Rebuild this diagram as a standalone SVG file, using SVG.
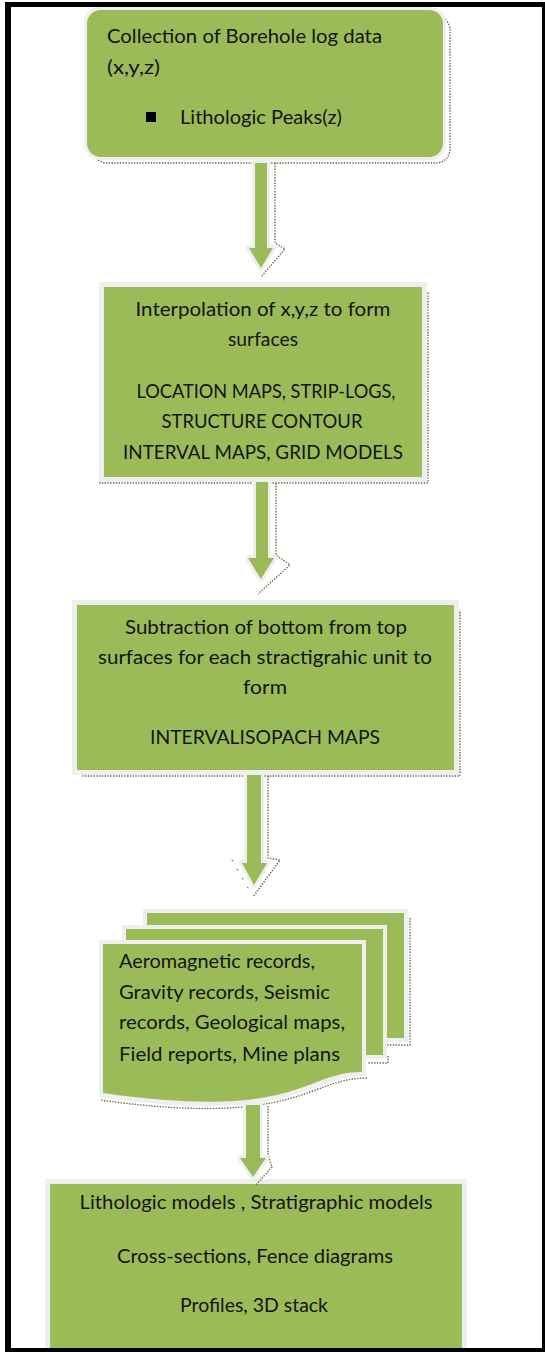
<svg xmlns="http://www.w3.org/2000/svg" width="545" height="1352" viewBox="0 0 545 1352">
  <style>
    .fill { fill: #9bbb59; }
    .halo { fill: #efefef; }
    .shadow { fill: none; stroke: #5f6f45; stroke-width: 1.4; stroke-dasharray: 1.4 1.4; }
    .ahalo { fill: #efefef; stroke: #efefef; stroke-width: 6; stroke-linejoin: round; }
    .t { font-family: Lato, "Liberation Sans", sans-serif; font-size: 18.5px; fill: #141414; }
    .c { text-anchor: middle; }
  </style>

  <rect x="0" y="0" width="545" height="1352" fill="#ffffff"/>

  <!-- step 1: borehole data -->
  <g id="node-collection">
    <rect class="shadow" x="93" y="16" width="357" height="147" rx="14"/>
    <rect class="halo" x="84" y="7" width="362" height="153" rx="16"/>
    <rect class="fill" x="87" y="10" width="356" height="147" rx="14"/>
    <text class="t" x="107" y="43" textLength="275" lengthAdjust="spacingAndGlyphs">Collection of Borehole log data</text>
    <text class="t" x="107" y="74" textLength="53" lengthAdjust="spacingAndGlyphs">(x,y,z)</text>
    <rect x="146" y="112" width="10" height="10" fill="#000"/>
    <text class="t" x="180" y="124" textLength="162" lengthAdjust="spacingAndGlyphs">Lithologic Peaks(z)</text>
  </g>

  <!-- step 2: interpolation -->
  <g id="node-interpolation">
    <rect class="shadow" x="100" y="293" width="328" height="190"/>
    <rect class="halo" x="99" y="282" width="328" height="200"/>
    <rect class="fill" x="104" y="287" width="318" height="190"/>
    <text class="t c" x="263" y="316" textLength="255" lengthAdjust="spacingAndGlyphs">Interpolation of x,y,z to form</text>
    <text class="t c" x="263" y="346" textLength="70" lengthAdjust="spacingAndGlyphs">surfaces</text>
    <text class="t c" x="266" y="398" textLength="259" lengthAdjust="spacingAndGlyphs">LOCATION MAPS, STRIP-LOGS,</text>
    <text class="t c" x="262" y="428" textLength="201" lengthAdjust="spacingAndGlyphs">STRUCTURE CONTOUR</text>
    <text class="t c" x="263" y="459" textLength="280" lengthAdjust="spacingAndGlyphs">INTERVAL MAPS, GRID MODELS</text>
  </g>

  <!-- step 3: subtraction -->
  <g id="node-subtraction">
    <rect class="shadow" x="83" y="611" width="377" height="165"/>
    <rect class="halo" x="72" y="600" width="387" height="175"/>
    <rect class="fill" x="77" y="605" width="377" height="165"/>
    <text class="t c" x="266" y="634" textLength="282" lengthAdjust="spacingAndGlyphs">Subtraction of bottom from top</text>
    <text class="t c" x="265" y="664" textLength="334" lengthAdjust="spacingAndGlyphs">surfaces for each stractigrahic unit to</text>
    <text class="t c" x="265" y="694" textLength="44" lengthAdjust="spacingAndGlyphs">form</text>
    <text class="t c" x="265" y="744" textLength="230" lengthAdjust="spacingAndGlyphs">INTERVALISOPACH MAPS</text>
  </g>

  <!-- step 4: supporting records (stacked documents) -->
  <g id="node-records">
    <polyline class="shadow" points="410,918 410,1045 383,1045"/>
    <rect class="halo" x="143" y="909" width="265" height="133"/>
    <rect class="fill" x="147" y="913" width="257" height="125"/>
    <polyline class="shadow" points="388,1056 388,1063 368,1063"/>
    <rect class="halo" x="122" y="925" width="265" height="134"/>
    <rect class="fill" x="126" y="929" width="257" height="126"/>
    <path class="shadow" d="M367,1078 C308,1078 300,1128 100,1100"/>
    <path class="halo" d="M99,940 H366 V1076 C306,1076 302,1126 99,1097 Z"/>
    <path class="fill" d="M103,944 H362 V1072 C303,1072 300,1121 103,1093 Z"/>
    <text class="t" x="119" y="968" textLength="196" lengthAdjust="spacingAndGlyphs">Aeromagnetic records,</text>
    <text class="t" x="119" y="999" textLength="211" lengthAdjust="spacingAndGlyphs">Gravity records, Seismic</text>
    <text class="t" x="119" y="1029" textLength="226" lengthAdjust="spacingAndGlyphs">records, Geological maps,</text>
    <text class="t" x="119" y="1061" textLength="221" lengthAdjust="spacingAndGlyphs">Field reports, Mine plans</text>
  </g>

  <!-- step 5: output models -->
  <g id="node-models">
    <rect class="halo" x="45" y="1179" width="422" height="180"/>
    <rect class="fill" x="50" y="1184" width="412" height="175"/>
    <text class="t c" x="256" y="1209" textLength="353" lengthAdjust="spacingAndGlyphs">Lithologic models , Stratigraphic models</text>
    <text class="t c" x="255" y="1263" textLength="276" lengthAdjust="spacingAndGlyphs">Cross-sections, Fence diagrams</text>
    <text class="t c" x="254" y="1312" textLength="148" lengthAdjust="spacingAndGlyphs">Profiles, 3D stack</text>
  </g>

  <!-- block arrows between steps -->
  <g id="connectors">
    <polyline class="shadow" points="275,163 275,243 285,249 261,277"/>
    <polygon class="ahalo" points="255,163 267,163 267,248 273,248 261,268 249,248 255,248"/>
    <polygon class="fill" points="255,163 267,163 267,248 273,248 261,268 249,248 255,248"/>

    <polyline class="shadow" points="276,483 276,555 290,565 258,594"/>
    <polygon class="ahalo" points="256,482 268,482 268,558 274,558 261,579 248,558 256,558"/>
    <polygon class="fill" points="256,482 268,482 268,558 274,558 261,579 248,558 256,558"/>

    <polyline class="shadow" points="268,776 268,858 280,860 253,897"/>
    <line x1="232" y1="860" x2="248" y2="888" stroke="#5f6f45" stroke-width="1.4" stroke-dasharray="1.4 9"/>
    <polygon class="ahalo" points="247,775 261,775 261,863 267,863 254,885 242,863 247,863"/>
    <polygon class="fill" points="247,775 261,775 261,863 267,863 254,885 242,863 247,863"/>

    <polyline class="shadow" points="268,1106 268,1155 272,1167 255,1186"/>
    <polygon class="ahalo" points="246,1105 260,1105 260,1158 266,1158 253,1177 240,1158 246,1158"/>
    <polygon class="fill" points="246,1105 260,1105 260,1158 266,1158 253,1177 240,1158 246,1158"/>
  </g>

  <!-- page frame -->
  <g id="frame" fill="#000">
    <rect x="5" y="2" width="540" height="5"/>
    <rect x="5" y="2" width="6" height="1350"/>
    <rect x="542" y="2" width="3" height="1350"/>
    <rect x="5" y="1348" width="540" height="4"/>
  </g>
</svg>
